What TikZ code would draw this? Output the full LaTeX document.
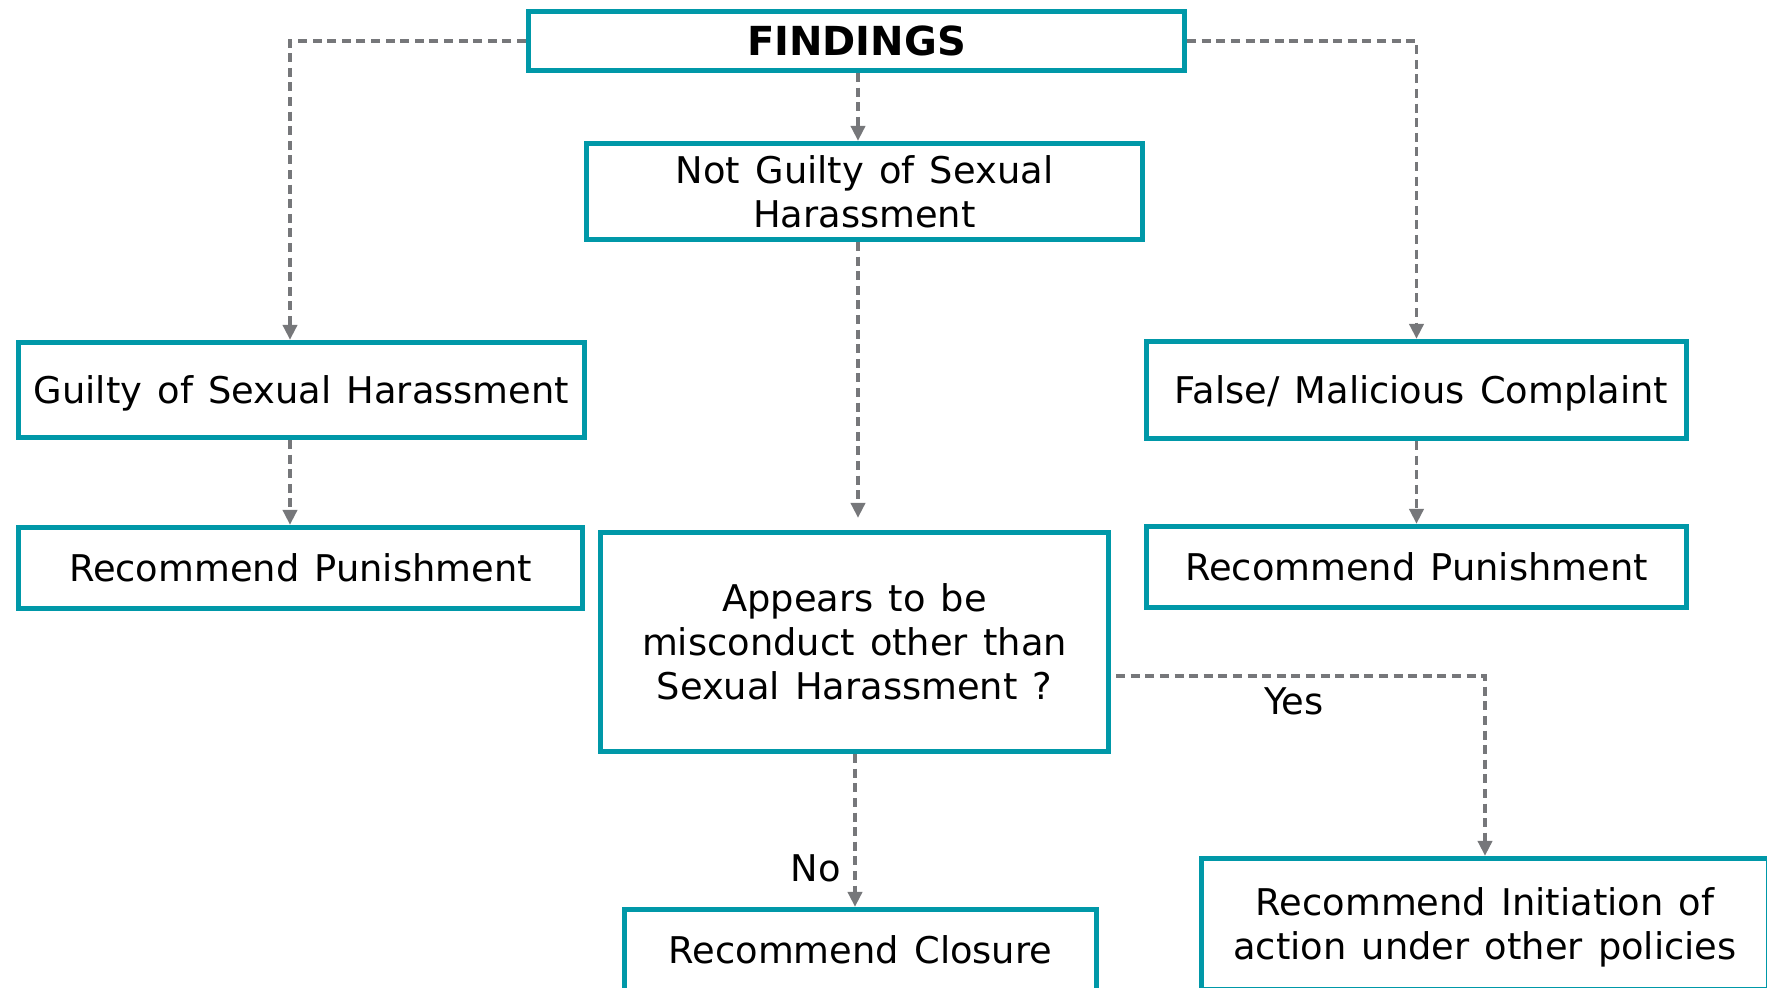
\documentclass[tikz,border=0pt]{standalone}
\usepackage{fontspec}
\setmainfont[WordSpace=1.3]{DejaVu Sans}
\usetikzlibrary{arrows.meta}
\definecolor{boxteal}{HTML}{0098A8}
\definecolor{linkgray}{HTML}{76777A}
\begin{document}
\begin{tikzpicture}[x=0.5pt,y=-0.5pt,
  box/.style={draw=boxteal, line width=2.6pt, fill=white, align=center,
    inner sep=0pt, text depth=0pt, text=black, font=\fontsize{18.4}{22}\selectfont},
  link/.style={draw=linkgray, line width=1.9pt, dash pattern=on 4.5pt off 2.8pt,
    -{Triangle[length=7.5pt,width=7pt]}},
  lbl/.style={font=\fontsize{18.4}{22}\selectfont, text=black}]
\useasboundingbox (0,0) rectangle (1767,988);

% boxes
\node[box, minimum width=328pt, minimum height=29.5pt,
      font=\fontsize{20}{24}\selectfont\bfseries] (find) at (856.5,41) {FINDINGS};
\node[box, minimum width=278pt, minimum height=48pt] (notg) at (864.5,191.5)
  {Not Guilty of Sexual\\Harassment};
\node[box, minimum width=283pt, minimum height=47.5pt] (guilty) at (301.5,390)
  {Guilty of Sexual Harassment};
\node[box, minimum width=282pt, minimum height=40.5pt] (punL) at (300.5,568)
  {Recommend Punishment};
\node[box, minimum width=270pt, minimum height=48.5pt] (false) at (1416.5,390)
  {\hspace{5pt}False/ Malicious Complaint};
\node[box, minimum width=270pt, minimum height=40.5pt] (punR) at (1416.5,567)
  {Recommend Punishment};
\node[box, minimum width=254pt, minimum height=109.5pt] (appears) at (854.5,642)
  {Appears to be\\misconduct other than\\Sexual Harassment ?};
\node[box, minimum width=236pt, minimum height=40.5pt] (closure) at (860.5,950)
  {Recommend Closure};
\node[box, minimum width=283.5pt, minimum height=65.5pt] (init) at (1485,924)
  {Recommend Initiation of\\action under other policies};

% branch points
\coordinate (gx) at (290,0);
\coordinate (ngx) at (858,0);
\coordinate (cx) at (855,0);
\coordinate (yesy) at (0,676);

% connectors
\draw[link] (find.south -| ngx) -- (notg.north -| ngx);
\draw[link] (find.west) -| (guilty.north -| gx);
\draw[link] (find.east) -| (false.north);
\draw[link] (guilty.south -| gx) -- (punL.north -| gx);
\draw[link] (false.south) -- (punR.north);
\draw[link, shorten >=6pt] (notg.south -| ngx) -- (appears.north -| ngx);
\draw[link, shorten <=2.5pt] (appears.east |- yesy) -| (init.north);
\draw[link] (appears.south -| cx) -- (closure.north -| cx);

% branch labels
\node[lbl] (yes) at (1294,701) {Yes};
\node[lbl] (no) at (816,868) {No};
\end{tikzpicture}
\end{document}
